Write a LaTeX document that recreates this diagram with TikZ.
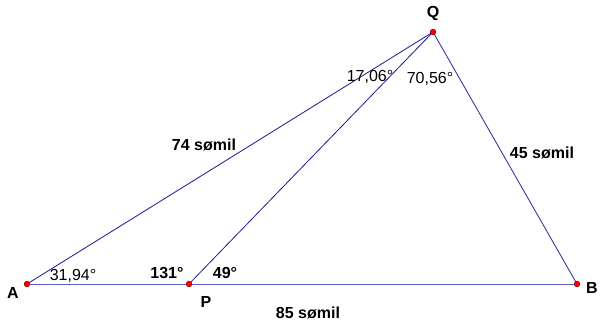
\documentclass[tikz,border=0pt]{standalone}
\usepackage{fontspec}
\setmainfont{Liberation Sans}
\begin{document}
\begin{tikzpicture}[x=1pt, y=-1pt, thin,
  side/.style={draw=navy, line width=0.8pt},
  base/.style={draw=slate, line width=1pt},
  pt/.style={circle, fill=red, draw=red!50!black, line width=0.3pt, inner sep=0pt, minimum size=5.5pt},
  lbl/.style={font=\fontsize{16}{18}\selectfont\bfseries, inner sep=0pt},
  ang/.style={font=\fontsize{16}{18}\selectfont, inner sep=0pt}]
  \definecolor{navy}{RGB}{25,25,150}
  \definecolor{slate}{RGB}{95,95,200}
  \useasboundingbox (0,0) rectangle (600,327);

  % corner points
  \node[pt] (A) at (27,284) {};
  \node[pt] (P) at (189,284) {};
  \node[pt] (B) at (577,284) {};
  \node[pt] (Q) at (433,32) {};

  % sides
  \draw[base] (A.center) -- (B.center);
  \draw[side] (A.center) -- (Q.center);
  \draw[side] (P.center) -- (Q.center);
  \draw[side] (Q.center) -- (B.center);
  \foreach \p in {A,P,B,Q} \node[pt] at (\p) {};

  % point names
  \node[lbl] (nA) at (13,293) {A};
  \node[lbl] (nP) at (206,302) {P};
  \node[lbl] (nB) at (592,288) {B};
  \node[lbl] (nQ) at (433,13) {Q};

  % distances
  \node[lbl] (dAQ) at (204,145) {74 sømil};
  \node[lbl] (dQB) at (542,153) {45 sømil};
  \node[lbl] (dAB) at (308,313) {85 sømil};

  % angles
  \node[ang] (aA) at (73,276) {31,94°};
  \node[lbl] (aP1) at (167,273) {131°};
  \node[lbl] (aP2) at (225,273) {49°};
  \node[ang] (aQ1) at (370,77) {17,06°};
  \node[ang] (aQ2) at (430,79) {70,56°};
\end{tikzpicture}
\end{document}
